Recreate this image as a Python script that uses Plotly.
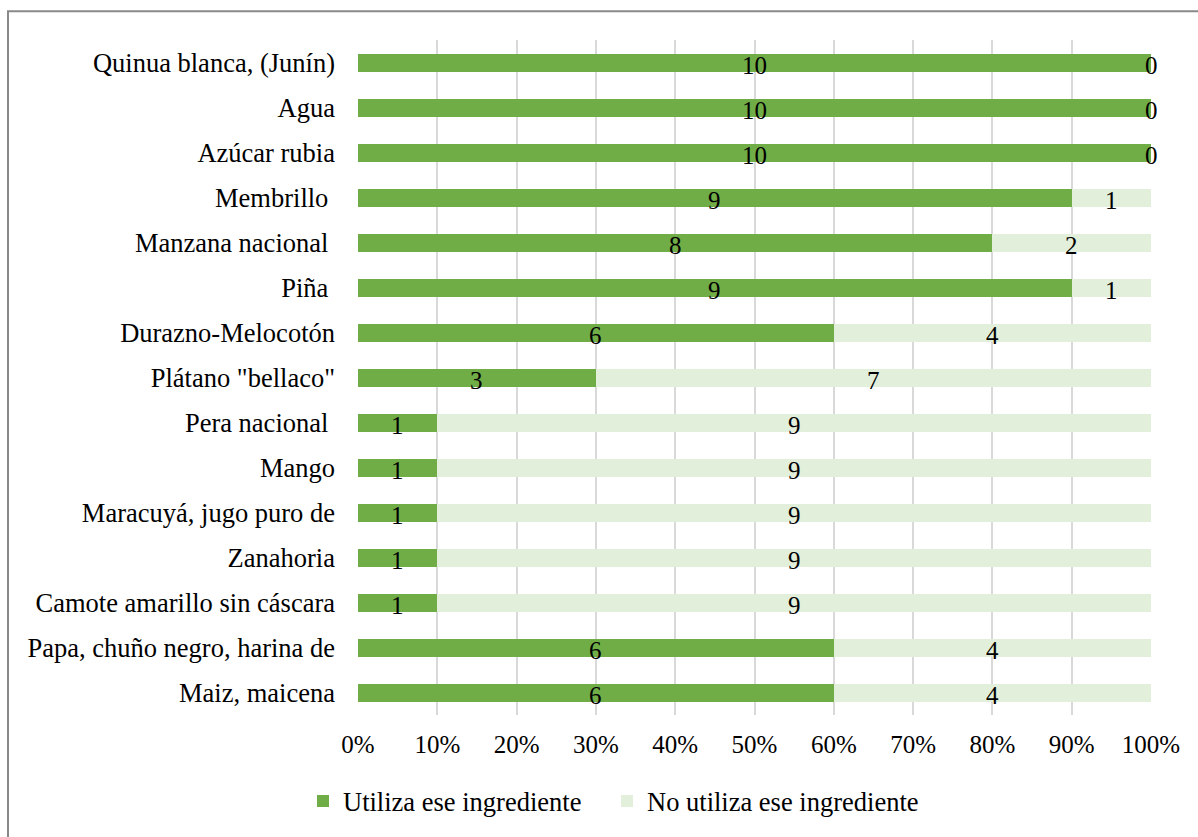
import plotly.graph_objects as go

# Ingredientes (de arriba hacia abajo) y número de respuestas
categorias = [
    "Quinua blanca, (Junín)",
    "Agua",
    "Azúcar rubia",
    "Membrillo ",
    "Manzana nacional ",
    "Piña ",
    "Durazno-Melocotón",
    'Plátano "bellaco"',
    "Pera nacional ",
    "Mango",
    "Maracuyá, jugo puro de",
    "Zanahoria",
    "Camote amarillo sin cáscara",
    "Papa, chuño negro, harina de",
    "Maiz, maicena",
]
utiliza = [10, 10, 10, 9, 8, 9, 6, 3, 1, 1, 1, 1, 1, 6, 6]
no_utiliza = [0, 0, 0, 1, 2, 1, 4, 7, 9, 9, 9, 9, 9, 4, 4]
ticks_x = [0, 10, 20, 30, 40, 50, 60, 70, 80, 90, 100]
ticks_txt = ["0%", "10%", "20%", "30%", "40%", "50%", "60%", "70%", "80%", "90%", "100%"]

FONT = "Liberation Serif"
FS = 25
FS_CAT = 26.5
W, H = 1198, 837
ML, MR, MT, MB = 358, 47, 40, 117

fig = go.Figure()
fig.add_bar(
    y=categorias, x=utiliza, orientation="h",
    name="Utiliza ese ingrediente", marker=dict(color="#70ad47", line_width=0),
    legend="legend", showlegend=True,
)
fig.add_bar(
    y=categorias, x=no_utiliza, orientation="h",
    name="No utiliza ese ingrediente", marker=dict(color="#e2efda", line_width=0),
    legend="legend2", showlegend=True,
)

# Etiquetas con el conteo, centradas en cada segmento
anots = []
for cat, a, b in zip(categorias, utiliza, no_utiliza):
    total = a + b
    segs = [(0, a), (a, b)]
    for start, v in segs:
        xc = (start + v / 2) / total * 100
        anots.append(dict(
            x=xc, y=cat, xref="x", yref="y", text=str(v), showarrow=False,
            font=dict(family=FONT, size=FS, color="#000000"), yshift=-3,
        ))

pw = W - ML - MR
ph = H - MT - MB
def px_x(p):
    return (p - ML) / pw
def px_y(p):
    return 1 - (p - MT) / ph

leg_common = dict(
    orientation="h", xanchor="left", y=px_y(807), yanchor="middle",
    font=dict(family=FONT, size=FS_CAT), itemsizing="constant",
    bgcolor="rgba(0,0,0,0)", visible=True,
)

fig.update_layout(
    showlegend=True,
    barmode="stack", barnorm="percent", bargap=0.6,
    width=W, height=H,
    margin=dict(l=ML, r=MR, t=MT, b=MB),
    paper_bgcolor="white", plot_bgcolor="white",
    font=dict(family=FONT, size=FS, color="#000000"),
    annotations=anots,
    legend=dict(x=px_x(303), **leg_common),
    legend2=dict(x=px_x(607), **leg_common),
    shapes=[dict(
        type="rect", xref="paper", yref="paper",
        x0=px_x(8), x1=px_x(1205), y0=px_y(845), y1=px_y(11),
        line=dict(color="#898989", width=2), fillcolor="rgba(0,0,0,0)", layer="below",
    )],
)
fig.update_xaxes(
    range=[0, 100], tickvals=ticks_x, ticktext=ticks_txt,
    showgrid=True, gridcolor="#d9d9d9", gridwidth=1.5,
    zeroline=False, showline=False, ticks="", fixedrange=True,
    tickfont=dict(family=FONT, size=FS), ticklabelstandoff=12,
)
fig.update_yaxes(
    autorange="reversed", showgrid=False, zeroline=False,
    showline=False, ticks="", ticklabelstandoff=22,
    tickfont=dict(family=FONT, size=FS_CAT),
)

fig.write_html("out.html")
